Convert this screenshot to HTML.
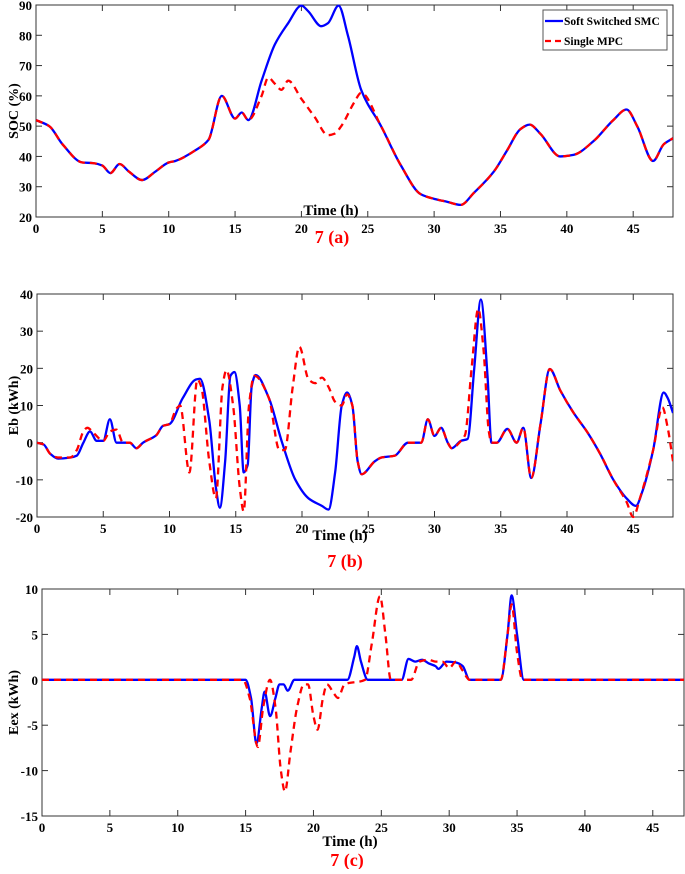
<!DOCTYPE html>
<html><head><meta charset="utf-8">
<style>
body{margin:0;background:#fff;}
svg text{font-family:"Liberation Serif",serif;font-weight:bold;}
</style></head>
<body>
<svg id="chart" width="685" height="869" viewBox="0 0 685 869" xmlns="http://www.w3.org/2000/svg"></svg>
<script>
// ---- Panel (a) SOC data ----
const socBlueT=[0,1,2,3.5,4.3,5,5.6,6.3,7,8,9,10,10.5,12,13,14,15,15.5,16,17,18,19,20,20.5,21.5,22,22.8,23.5,24.5,26,27.5,29,30,31,32,33,34.5,35.5,36.5,37.2,38,39.5,40.5,42,43.5,44.5,45.3,46.5,47.3,48];
const socBlueV=[52,50,44,38,37.8,37,34.5,37.5,35,32.2,35,38,38.5,42,45.5,60,52.5,54.5,52,65,77,84,89.8,88,83,84,89.8,80,62,50,37,27.5,26,25,24,28,35,42,49,50.5,47.5,40,40.5,45,52,55.5,50,38.5,44,46];
const socRedT=[0,1,2,3.5,4.3,5,5.6,6.3,7,8,9,10,10.5,12,13,14,15,15.5,16,17,17.5,18,18.5,19,20,21,22,22.5,23,24,24.5,26,27.5,29,30,31,32,33,34.5,35.5,36.5,37.2,38,39.5,40.5,42,43.5,44.5,45.3,46.5,47.3,48];
const socRedV=[52,50,44,38,37.8,37,34.5,37.5,35,32.2,35,38,38.5,42,45.5,60,52.5,54.5,52,60,66,64,62,65,59,53,47,47.5,50,58,61,50,37,27.5,26,25,24,28,35,42,49,50.5,47.5,40,40.5,45,52,55.5,50,38.5,44,46];
const socTicksY=[20,30,40,50,60,70,80,90];
// ---- Panel (b) Eb data ----
const ebBlueT=[0,0.5,1,1.6,2.5,3,3.5,4,4.5,5,5.5,6,7,7.5,8,9,9.5,10,11,12,12.3,13,13.5,13.8,14.2,14.6,14.9,15.3,15.6,15.9,16.2,16.5,17.5,18.5,19.5,20.5,21.5,22,22.5,23,23.4,23.8,24.2,24.5,25.5,26,27,28,29,29.5,30,30.5,31,31.3,32,32.5,33,33.5,34,34.3,34.7,35.5,36.2,36.7,37.3,38,38.7,39.5,40.5,41.5,42.5,43.5,44.5,45.2,45.7,46.5,47.3,47.6,48];
const ebBlueV=[0,-0.5,-3,-4.3,-4,-3.5,0,3,0.5,0.5,6.3,0,0,-1.5,0,2,4.5,5,12,17,17.2,6,-12,-17.5,-5,18,19,10,-8,-6,15,18.2,12,0,-10,-15,-17,-18,-8,10,13.5,10,-5,-8.5,-5,-4,-3.5,0,0,6.3,1.8,4,0,-1.5,0.5,1,20,38.5,18,0,0,3.7,0,4,-9.5,5,19.8,14,8,3,-3,-10,-15,-17,-13,-2,13.5,12,8];
const ebRedT=[0,0.5,1,1.6,2.5,3,3.5,3.8,4.3,5,5.5,6,6.5,7,7.5,8,9,9.5,10,10.5,10.8,11.5,12.1,12.4,13,13.5,14,14.3,14.8,15.3,15.6,16,16.4,17.5,18.3,18.7,19.3,19.8,20.5,21,21.5,22,22.5,23,23.4,23.8,24.2,24.5,25.5,26,27,28,29,29.5,30,30.5,31,31.3,32,32.3,32.8,33.3,33.7,34.1,34.3,34.7,35.5,36.2,36.7,37.3,38,38.7,39.5,40.5,41.5,42.5,43.5,44.5,45,45.5,46.5,47.2,47.6,48];
const ebRedV=[0,-0.5,-3,-4,-4,-2,3,4,2.5,0.5,3,3.5,0,0,-1.5,0,2,4.5,5,9,10,-8,17,15,-5,-15,15,19.5,10,-12,-18.5,10,18,12,-2,-2,15,25.8,17,16,17.5,15,11,10,13,10,-5,-8.5,-5,-4,-3.5,0,0,6.3,1.8,4,0,-1.5,0.5,2,20,36,25,3,0,0,3.7,0,4,-9.5,5,19.8,14,8,3,-3,-10,-16,-20,-15,-2,9.5,4,-5];
const ebTicksY=[-20,-10,0,10,20,30,40];
// ---- Panel (c) Eex data ----
const exBlueT=[0,15,15.4,15.8,16.2,16.4,16.8,17.2,17.5,17.8,18.1,18.6,22.5,23,23.2,23.5,24,26.5,27,27.5,28,28.5,29,29.2,29.8,30.5,31,31.5,33.8,34.3,34.6,35,35.5,47.3];
const exBlueV=[0,0,-2,-7,-3,-1.3,-4,-2,-0.5,-0.5,-1.2,0,0,2.5,3.7,2,0,0,2.3,2,2.2,1.8,1.5,1.2,2,1.9,1.5,0,0,5,9.3,5,0,0];
const exRedT=[0,14.8,15.3,15.9,16.3,16.8,17.2,17.6,17.9,18.3,18.8,19.3,19.6,20,20.3,20.7,21,21.5,21.8,22.3,23.8,24.3,24.9,25.3,25.7,27.2,27.8,28.5,29,29.5,30,30.5,31,31.5,33.8,34.3,34.6,35,35.4,47.3];
const exRedV=[0,0,-2,-7.4,-3,0,-3,-10,-12.3,-8,-3,-0.5,-0.5,-4,-5.5,-2,-0.5,-1.5,-2,-0.5,0,4,9.2,5,0,0,2,2.2,2,2,1.3,2,1,0,0,5,8.3,3,0,0];
const exTicksY=[-15,-10,-5,0,5,10];
const xTicks=[0,5,10,15,20,25,30,35,40,45];

const svg=document.getElementById('chart');
const NS='http://www.w3.org/2000/svg';
function mk(tag,attrs,parent){const e=document.createElementNS(NS,tag);for(const k in attrs)e.setAttribute(k,attrs[k]);(parent||svg).appendChild(e);return e;}

// monotone cubic (Fritsch-Carlson) path in pixel space
function smoothPath(xs,ys){
  const n=xs.length;
  const d=[],m=new Array(n);
  for(let i=0;i<n-1;i++)d.push((ys[i+1]-ys[i])/(xs[i+1]-xs[i]));
  m[0]=d[0];m[n-1]=d[n-2];
  for(let i=1;i<n-1;i++){
    if(d[i-1]*d[i]<=0)m[i]=0;
    else{const h0=xs[i]-xs[i-1],h1=xs[i+1]-xs[i];const w1=2*h1+h0,w2=h1+2*h0;m[i]=(w1+w2)/(w1/d[i-1]+w2/d[i]);}
  }
  let p='M'+xs[0].toFixed(2)+','+ys[0].toFixed(2);
  for(let i=0;i<n-1;i++){
    const h=(xs[i+1]-xs[i])/3;
    p+=' C'+(xs[i]+h).toFixed(2)+','+(ys[i]+m[i]*h).toFixed(2)+' '+(xs[i+1]-h).toFixed(2)+','+(ys[i+1]-m[i+1]*h).toFixed(2)+' '+xs[i+1].toFixed(2)+','+ys[i+1].toFixed(2);
  }
  return p;
}

function panel(p){
  const g=mk('g',{});
  
  
  const sx=t=>p.x0+(t-0)*(p.x1-p.x0)/(p.xmax);
  const sy=v=>p.y1-(v-p.ymin)*(p.y1-p.y0)/(p.ymax-p.ymin);
  const clipId=p.name+'-clip';
  const cp=mk('clipPath',{id:clipId},g);
  mk('rect',{x:p.x0,y:p.y0-2,width:p.x1-p.x0,height:p.y1-p.y0+4},cp);
  const box=mk('rect',{x:p.x0,y:p.y0,width:p.x1-p.x0,height:p.y1-p.y0,fill:'none',stroke:'#333','stroke-width':1},g);
  
  
  xTicks.forEach(t=>{
    const x=sx(t);
    mk('line',{x1:x,y1:p.y1,x2:x,y2:p.y1-6,stroke:'#333'},g);
    mk('line',{x1:x,y1:p.y0,x2:x,y2:p.y0+6,stroke:'#333'},g);
    const tx=mk('text',{x:x,y:p.y1+16,'text-anchor':'middle','font-size':13},g);
    tx.textContent=t;
    
    
  });
  p.yt.forEach(v=>{
    const y=sy(v);
    mk('line',{x1:p.x0,y1:y,x2:p.x0+6,y2:y,stroke:'#333'},g);
    mk('line',{x1:p.x1,y1:y,x2:p.x1-6,y2:y,stroke:'#333'},g);
    const tx=mk('text',{x:p.x0-4,y:y+5,'text-anchor':'end','font-size':13},g);
    tx.textContent=v;
    
    
  });
  const bl=mk('path',{d:smoothPath(p.bt.map(sx),p.bv.map(sy)),fill:'none',stroke:'#0000ff','stroke-width':2.3,'clip-path':'url(#'+clipId+')'},g);
  
  
  const rl=mk('path',{d:smoothPath(p.rt.map(sx),p.rv.map(sy)),fill:'none',stroke:'#ff0000','stroke-width':2.3,'stroke-dasharray':'7 5','clip-path':'url(#'+clipId+')'},g);
  
  
  const xl=mk('text',{x:p.xlx,y:p.xly,'text-anchor':'middle','font-size':15},g);
  xl.textContent='Time (h)';
  
  
  const cy=(p.y0+p.y1)/2;
  const yl=mk('text',{x:14,y:cy+4,'text-anchor':'middle','font-size':14,transform:'rotate(-90 14 '+cy+')'},g);
  yl.textContent=p.ylabel;
  
  
  const cap=mk('text',{x:p.capx,y:p.capy,'text-anchor':'middle','font-size':18,fill:'#ff0000'},g);
  cap.textContent=p.cap;
  
  
}

panel({name:'panel-a-soc',x0:36,x1:673,xmax:48,y0:5,y1:217,ymin:20,ymax:90,yt:socTicksY,bt:socBlueT,bv:socBlueV,rt:socRedT,rv:socRedV,ylabel:'SOC (%)',xlx:331,xly:215,cap:'7 (a)',capx:332,capy:243});
panel({name:'panel-b-eb',x0:37,x1:673,xmax:48,y0:294,y1:517,ymin:-20,ymax:40,yt:ebTicksY,bt:ebBlueT,bv:ebBlueV,rt:ebRedT,rv:ebRedV,ylabel:'Eb (kWh)',xlx:340,xly:540,cap:'7 (b)',capx:345,capy:567});
panel({name:'panel-c-eex',x0:42,x1:684,xmax:47.3,y0:589,y1:816,ymin:-15,ymax:10,yt:exTicksY,bt:exBlueT,bv:exBlueV,rt:exRedT,rv:exRedV,ylabel:'Eex (kWh)',xlx:350,xly:846,cap:'7 (c)',capx:347,capy:866});

// legend
const lg=mk('g',{});


mk('rect',{x:543,y:10,width:124,height:40,fill:'#fff',stroke:'#555','stroke-width':1},lg);
mk('line',{x1:545,y1:21,x2:563,y2:21,stroke:'#0000ff','stroke-width':2.3},lg);
const l1=mk('text',{x:564,y:25,'font-size':11.5},lg);
l1.textContent='Soft Switched SMC';


mk('line',{x1:545,y1:41,x2:563,y2:41,stroke:'#ff0000','stroke-width':2.3,'stroke-dasharray':'6 4'},lg);
const l2=mk('text',{x:564,y:45,'font-size':11.5},lg);
l2.textContent='Single MPC';


</script>
</body></html>
